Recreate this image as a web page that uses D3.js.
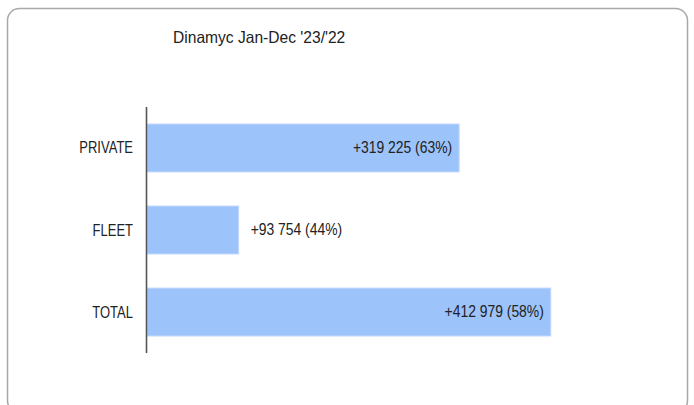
<!DOCTYPE html>
<head>
  <meta charset="utf-8">
  <script src="https://d3js.org/d3.v7.min.js"></script>
  <style>
    body { margin:0; background:#fff; }
    svg { display:block; }
    text { font-family: "Liberation Sans", Arial, sans-serif; fill:#222; }
  </style>
</head>
<body>
  <script>
    var categories = ["PRIVATE", "FLEET", "TOTAL"];
    var values = [319225, 93754, 412979];
    var labels = ["+319 225 (63%)", "+93 754 (44%)", "+412 979 (58%)"];
    var title = "Dinamyc Jan-Dec '23/'22";

    var width = 694, height = 405;

    var svg = d3.select("body").append("svg")
        .attr("width", width)
        .attr("height", height);

    // card border
    svg.append("rect")
        .attr("x", 7.5).attr("y", 8.5)
        .attr("width", 680).attr("height", 404)
        .attr("rx", 12).attr("ry", 12)
        .attr("fill", "#fff")
        .attr("stroke", "#a8a8a8")
        .attr("stroke-width", 1.5);

    svg.append("text")
        .attr("transform", "translate(173,42.5) scale(1,1.07)")
        .attr("font-size", 15.6)
        .text(title);

    var x = d3.scaleLinear().domain([0, 450000]).range([147, 587]);
    var y = d3.scaleBand().domain(categories).range([107, 353])
        .paddingInner(0.415).paddingOuter(0.207);

    svg.selectAll("rect.bar")
        .data(values)
        .enter().append("rect")
          .attr("class", "bar")
          .attr("x", x(0))
          .attr("y", function(d, i) { return y(categories[i]); })
          .attr("width", function(d) { return x(d) - x(0); })
          .attr("height", y.bandwidth())
          .attr("fill", "#9dc3fb")
          .attr("stroke", "#c4dafd")
          .attr("stroke-width", 1);

    // category labels
    svg.selectAll("text.cat")
        .data(categories)
        .enter().append("text")
          .attr("class", "cat")
          .attr("text-anchor", "end")
          .attr("font-size", 13)
          .attr("transform", function(d) {
            return "translate(133," + (y(d) + y.bandwidth() / 2 + 5.5) + ") scale(1,1.29)";
          })
          .text(function(d) { return d; });

    // value labels: inside the bar when there is room, else outside
    svg.selectAll("text.val")
        .data(values)
        .enter().append("text")
          .attr("class", "val")
          .attr("font-size", 13.9)
          .attr("text-anchor", function(d) { return x(d) - x(0) > 150 ? "end" : "start"; })
          .attr("transform", function(d, i) {
            var inside = x(d) - x(0) > 150;
            var tx = inside ? x(d) - 7 : x(d) + 12;
            return "translate(" + tx + "," + (y(categories[i]) + y.bandwidth() / 2 + 5.3) + ") scale(1,1.17)";
          })
          .text(function(d, i) { return labels[i]; });

    // axis line
    svg.append("line")
        .attr("x1", 146.5).attr("x2", 146.5)
        .attr("y1", 107).attr("y2", 353)
        .attr("stroke", "#555")
        .attr("stroke-width", 1.6);
  </script>
</body>
